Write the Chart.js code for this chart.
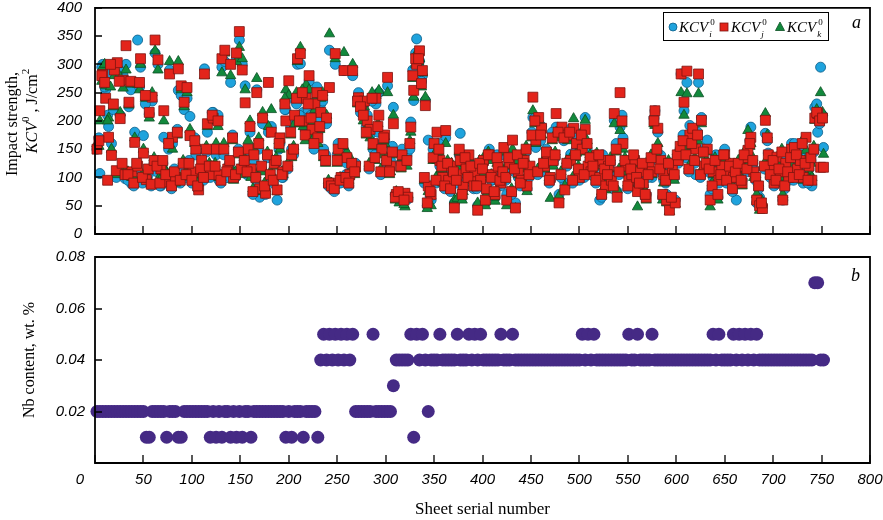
<!DOCTYPE html>
<html>
<head>
<meta charset="utf-8">
<script src="https://cdn.jsdelivr.net/npm/chart.js@4.4.1/dist/chart.umd.min.js"></script>
<style>
  body { margin: 0; background: #fff; }
  #wrap { position: relative; width: 883px; height: 520px; }
  canvas { position: absolute; left: 0; }
  #topChart { top: 0; }
  #bottomChart { top: 245px; }
</style>
</head>
<body>
<div id="wrap">
  <canvas id="topChart" width="883" height="245"></canvas>
  <canvas id="bottomChart" width="883" height="275"></canvas>
</div>
<script>
// sheet serial numbers, first pass (every third sheet)
const sheets = [
  2,5,8,11,14,17,20,23,26,29,
  32,35,38,41,44,47,50,53,56,59,
  62,65,68,71,74,77,80,83,86,89,
  92,95,98,101,104,107,110,113,116,119,
  122,125,128,131,134,137,140,143,146,149,
  152,155,158,161,164,167,170,173,176,179,
  182,185,188,191,194,197,200,203,206,209,
  212,215,218,221,224,227,230,233,236,239,
  242,245,248,251,254,257,260,263,266,269,
  272,275,278,281,284,287,290,293,296,299,
  302,305,308,311,314,317,320,323,326,329,
  332,335,338,341,344,347,350,353,356,359,
  362,365,368,371,374,377,380,383,386,389,
  392,395,398,401,404,407,410,413,416,419,
  422,425,428,431,434,437,440,443,446,449,
  452,455,458,461,464,467,470,473,476,479,
  482,485,488,491,494,497,500,503,506,509,
  512,515,518,521,524,527,530,533,536,539,
  542,545,548,551,554,557,560,563,566,569,
  572,575,578,581,584,587,590,593,596,599,
  602,605,608,611,614,617,620,623,626,629,
  632,635,638,641,644,647,650,653,656,659,
  662,665,668,671,674,677,680,683,686,689,
  692,695,698,701,704,707,710,713,716,719,
  722,725,728,731,734,737,740,743,746,749,
  752
];

// second pass of sheets in between
const sheetsB = [
  4,7,10,13,16,19,22,25,28,31,
  34,37,40,43,46,49,52,55,58,61,
  64,67,70,73,76,79,82,85,88,91,
  94,97,100,103,106,109,112,115,118,121,
  124,127,130,133,136,139,142,145,148,151,
  154,157,160,163,166,169,172,175,178,181,
  184,187,190,193,196,199,202,205,208,211,
  214,217,220,223,226,229,232,235,238,241,
  244,247,250,253,256,259,262,265,268,271,
  274,277,280,283,286,289,292,295,298,301,
  304,307,310,313,316,319,322,325,328,331,
  334,337,340,343,346,349,352,355,358,361,
  364,367,370,373,376,379,382,385,388,391,
  394,397,400,403,406,409,412,415,418,421,
  424,427,430,433,436,439,442,445,448,451,
  454,457,460,463,466,469,472,475,478,481,
  484,487,490,493,496,499,502,505,508,511,
  514,517,520,523,526,529,532,535,538,541,
  544,547,550,553,556,559,562,565,568,571,
  574,577,580,583,586,589,592,595,598,601,
  604,607,610,613,616,619,622,625,628,631,
  634,637,640,643,646,649,652,655,658,661,
  664,667,670,673,676,679,682,685,688,691,
  694,697,700,703,706,709,712,715,718,721,
  724,727,730,733,736,739,742,745,748,751
];

// KCV_i^0, J/cm2 (circles)
const kcvI = [
  150,107,300,255,190,160,292,298,210,280,
  300,225,88,180,343,295,174,92,212,235,
  320,300,85,171,98,290,160,95,254,245,
  220,240,208,95,140,92,120,292,180,100,
  215,140,95,295,305,100,268,110,310,343,
  300,262,140,105,130,255,65,195,70,180,
  190,130,60,160,100,220,240,150,200,300,
  301,215,250,270,200,225,180,230,150,195,
  325,80,300,160,92,289,125,100,280,125,
  250,225,230,210,175,150,230,250,160,165,
  262,130,224,65,60,150,70,62,198,236,
  345,306,280,236,166,60,154,141,120,95,
  170,90,110,55,95,178,80,105,130,90,
  100,50,90,125,75,150,95,65,110,85,
  140,70,115,141,55,100,90,125,80,115,
  206,153,197,190,110,135,95,125,189,70,
  180,90,170,141,175,150,95,160,206,110,
  105,115,130,60,140,90,110,100,201,75,
  189,170,115,100,95,125,79,105,85,70,
  125,100,218,180,139,95,70,50,110,60,
  125,283,218,268,192,160,105,268,206,110,
  166,70,100,140,90,110,150,100,115,95,
  60,110,95,130,140,189,115,55,65,48,
  178,143,115,85,125,105,60,130,95,160,
  160,110,125,90,140,115,85,224,180,295,
  153
];
const kcvIB = [
  170,295,260,210,285,220,100,290,115,98,
  95,255,85,115,260,90,230,105,85,125,
  110,85,125,100,150,80,115,185,90,120,
  100,130,90,170,80,110,95,145,115,215,
  115,210,90,140,100,125,175,100,150,110,
  125,105,180,70,95,150,115,80,135,100,
  90,125,150,100,220,115,190,140,230,210,
  240,185,220,210,150,260,200,235,140,85,
  80,75,140,90,150,105,85,120,115,240,
  215,220,190,115,235,140,180,105,160,125,
  115,155,70,62,125,58,140,150,290,320,
  300,270,90,50,65,150,90,160,110,80,
  120,75,105,90,140,65,130,95,115,80,
  80,120,110,55,135,95,70,140,90,105,
  95,130,70,110,135,85,120,145,100,180,
  205,105,165,120,150,90,180,135,175,100,
  165,120,185,90,145,110,170,100,150,130,
  115,90,135,65,110,100,125,80,160,105,
  210,125,80,110,135,95,85,120,65,100,
  130,205,145,110,65,90,120,60,100,135,
  150,175,135,110,170,125,180,100,150,120,
  110,80,125,65,100,135,90,115,75,105,
  120,90,135,110,165,125,95,80,50,115,
  165,100,125,90,110,140,80,105,130,95,
  135,100,155,120,90,130,145,230,195,210
];

// KCV_j^0 (squares)
const kcvJ = [
  150,218,282,240,171,139,290,303,204,272,
  333,233,110,162,120,310,143,96,215,242,
  343,308,115,218,92,283,171,100,292,262,
  233,259,174,110,150,78,130,283,195,105,
  205,150,105,310,325,115,300,100,320,358,
  290,232,150,115,140,250,80,205,72,268,
  180,125,78,170,110,200,271,140,210,310,
  319,200,240,280,185,230,170,215,140,205,
  259,90,319,150,100,289,135,105,289,120,
  241,230,235,200,185,160,240,210,150,175,
  277,120,195,70,68,140,72,65,189,254,
  300,324,289,227,85,70,160,180,130,100,
  183,95,120,46,105,130,85,115,140,100,
  110,42,95,130,80,140,105,70,120,90,
  153,60,125,166,46,110,95,130,85,120,
  242,166,206,187,120,141,100,130,213,55,
  189,78,175,130,187,160,100,150,185,120,
  110,125,139,100,130,85,120,95,213,65,
  250,160,120,95,105,130,75,110,90,65,
  120,110,218,187,130,105,60,42,115,55,
  130,283,233,288,175,187,150,283,201,120,
  150,60,110,130,95,120,140,105,125,100,
  100,120,90,135,148,171,110,60,50,45,
  201,140,120,90,136,110,60,125,100,150,
  153,115,130,100,171,120,95,205,213,118,
  118
];
const kcvJB = [
  165,280,268,95,300,230,112,270,125,105,
  105,270,90,125,268,100,245,115,88,130,
  120,90,130,105,160,85,110,180,95,125,
  105,125,95,165,85,115,100,150,120,210,
  120,200,95,150,110,130,170,105,145,115,
  130,110,190,75,100,160,120,85,140,105,
  95,130,160,105,230,120,180,150,240,200,
  250,175,230,205,160,250,190,245,130,90,
  85,80,130,95,160,100,90,125,110,235,
  225,210,180,120,240,135,190,110,170,130,
  110,145,65,75,120,60,130,160,280,310,
  310,266,100,55,75,135,95,150,120,85,
  125,80,110,95,150,70,135,100,120,85,
  85,125,115,60,140,100,75,135,95,110,
  100,135,75,115,140,90,125,150,105,175,
  200,110,175,125,145,95,170,140,180,105,
  170,125,180,95,140,115,175,105,160,135,
  120,95,140,70,115,105,130,85,150,110,
  200,130,85,115,140,100,90,125,70,105,
  135,200,150,115,70,95,125,65,105,140,
  155,165,140,115,160,130,175,105,145,125,
  115,85,130,70,105,140,95,120,80,110,
  125,95,140,115,160,130,100,85,55,120,
  170,105,130,95,115,145,85,110,135,100,
  140,105,160,125,95,135,150,215,200,205
];

// KCV_k^0 (triangles)
const kcvK = [
  160,200,295,262,205,150,280,300,215,258,
  290,228,100,170,265,300,150,105,205,250,
  324,290,105,200,110,305,150,90,305,255,
  225,250,185,105,160,90,115,280,190,110,
  200,160,100,285,320,120,280,95,305,330,
  310,255,165,100,150,275,75,215,80,190,
  220,120,75,150,105,255,245,135,195,305,
  330,190,264,255,175,220,160,240,135,210,
  354,88,310,140,98,321,145,110,300,115,
  235,240,225,190,170,155,245,254,140,160,
  250,110,210,75,55,135,48,70,180,242,
  320,310,285,242,75,50,140,130,110,90,
  160,100,125,60,63,120,75,110,135,95,
  105,55,100,135,70,130,100,58,115,95,
  145,50,120,150,45,105,100,135,75,110,
  218,160,200,175,115,130,63,120,180,67,
  175,85,165,135,204,143,105,145,201,115,
  115,120,143,95,125,78,115,90,195,78,
  183,150,110,90,100,120,48,115,80,60,
  115,105,192,160,120,90,55,40,105,53,
  135,250,210,248,170,180,130,248,195,115,
  145,48,105,125,100,115,135,95,120,105,
  105,115,85,125,183,160,100,70,42,55,
  213,130,110,95,120,100,70,115,105,140,
  150,120,135,95,148,110,100,201,210,250,
  141
];
const kcvKB = [
  155,270,300,200,260,225,105,280,120,110,
  110,265,100,120,255,105,240,95,90,135,
  125,95,120,110,165,90,105,175,100,130,
  110,120,100,160,90,105,105,155,125,200,
  125,190,100,160,115,120,165,110,140,105,
  135,115,200,80,105,170,110,90,145,110,
  100,135,165,110,240,125,175,155,250,195,
  255,165,235,195,170,245,185,250,125,95,
  90,85,125,100,155,95,95,130,105,230,
  230,200,175,125,250,130,195,115,165,135,
  105,140,60,70,115,52,120,165,275,300,
  305,260,95,45,80,130,100,145,115,90,
  130,85,115,100,145,60,125,105,110,90,
  90,130,105,50,145,105,65,125,100,115,
  105,125,80,120,130,95,115,155,110,170,
  195,115,185,130,140,100,165,145,170,110,
  175,130,170,100,135,120,180,110,165,140,
  125,100,130,75,120,95,135,90,145,115,
  195,135,90,120,130,105,95,115,75,110,
  140,195,140,120,60,100,130,55,95,145,
  145,160,150,120,155,135,165,110,140,130,
  120,90,135,60,110,130,100,125,85,115,
  130,100,145,120,155,135,105,90,60,125,
  175,110,135,100,120,150,90,115,125,105,
  145,110,165,130,100,125,155,220,205,215
];

// Nb content, wt. % (first pass sheets)
const nbContent = [
  .02,.02,.02,.02,.02,.02,.02,.02,.02,.02,
  .02,.02,.02,.02,.02,.02,.02,.01,.01,.02,
  .02,.02,.02,.02,.01,.02,.02,.02,.01,.01,
  .02,.02,.02,.02,.02,.02,.02,.02,.02,.01,
  .02,.01,.02,.01,.02,.02,.01,.02,.01,.02,
  .01,.02,.02,.01,.02,.02,.02,.02,.02,.02,
  .02,.02,.02,.02,.02,.01,.02,.01,.02,.02,
  .02,.01,.02,.02,.02,.02,.01,.04,.05,.04,
  .05,.04,.05,.04,.05,.04,.05,.04,.05,.02,
  .02,.02,.02,.02,.02,.05,.02,.02,.02,.02,
  .02,.02,.03,.04,.04,.04,.04,.04,.05,.01,
  .05,.04,.05,.04,.02,.04,.04,.04,.05,.04,
  .04,.04,.04,.04,.05,.04,.04,.04,.05,.04,
  .05,.04,.05,.04,.04,.04,.04,.04,.04,.05,
  .04,.04,.04,.05,.04,.04,.04,.04,.04,.04,
  .04,.04,.04,.04,.04,.04,.04,.04,.04,.04,
  .04,.04,.04,.04,.04,.04,.04,.05,.04,.05,
  .04,.05,.04,.04,.04,.04,.04,.04,.04,.04,
  .04,.04,.04,.05,.04,.04,.05,.04,.04,.04,
  .04,.05,.04,.04,.04,.04,.04,.04,.04,.04,
  .04,.04,.04,.04,.04,.04,.04,.04,.04,.04,
  .04,.04,.05,.04,.05,.04,.04,.04,.04,.05,
  .04,.05,.04,.05,.04,.05,.04,.05,.04,.04,
  .04,.04,.04,.04,.04,.04,.04,.04,.04,.04,
  .04,.04,.04,.04,.04,.04,.04,.07,.07,.04,
  .04
];

const xTicks = [0,50,100,150,200,250,300,350,400,450,500,550,600,650,700,750,800];
const kcvTicks = [0,50,100,150,200,250,300,350,400];
const nbTicks = [0,0.02,0.04,0.06,0.08];

const SANS = '"Liberation Sans", Arial, sans-serif';
const SERIF = '"Liberation Serif", "Times New Roman", serif';

function pts(values, xs) {
  return values.map((v, i) => ({ x: xs[i], y: v }));
}

// frame round the plot area and short inward ticks on the bottom and left
function makeFrame(yTicks) {
  return {
    id: 'frame',
    afterDraw(chart) {
      const { ctx, chartArea: a, scales } = chart;
      ctx.save();
      ctx.strokeStyle = '#000';
      ctx.lineWidth = 1.3;
      ctx.beginPath();
      xTicks.forEach(v => {
        const x = Math.round(scales.x.getPixelForValue(v));
        ctx.moveTo(x, a.bottom);
        ctx.lineTo(x, a.bottom - 8);
      });
      yTicks.forEach(v => {
        const y = Math.round(scales.y.getPixelForValue(v));
        ctx.moveTo(a.left, y);
        ctx.lineTo(a.left + 7, y);
      });
      ctx.stroke();
      ctx.lineWidth = 1.8;
      ctx.beginPath();
      ctx.moveTo(a.left, a.top);
      ctx.lineTo(a.right, a.top);
      ctx.lineTo(a.right, a.bottom);
      ctx.lineTo(a.left, a.bottom);
      ctx.closePath();
      ctx.stroke();
      ctx.restore();
    }
  };
}

function drawKcv(ctx, x, y, sub, size) {
  ctx.font = `italic ${size}px ${SERIF}`;
  ctx.fillText('KCV', x, y);
  const w = ctx.measureText('KCV').width;
  ctx.font = `italic ${Math.round(size * 0.62)}px ${SERIF}`;
  ctx.fillText(sub, x + w + 1, y + size * 0.3);
  ctx.font = `${Math.round(size * 0.62)}px ${SERIF}`;
  ctx.fillText('0', x + w + 2, y - size * 0.5);
}

// axis title, legend and panel letter of the upper chart
const topDecor = {
  id: 'topDecor',
  afterDraw(chart) {
    const ctx = chart.ctx;
    ctx.save();
    ctx.fillStyle = '#000';
    ctx.textBaseline = 'alphabetic';

    ctx.save();
    ctx.translate(17, 124);
    ctx.rotate(-Math.PI / 2);
    ctx.font = `16px ${SERIF}`;
    ctx.textAlign = 'center';
    ctx.fillText('Impact strength,', 0, 0);
    ctx.restore();

    ctx.save();
    ctx.font = `italic 16px ${SERIF}`;
    const wK = ctx.measureText('KCV').width;
    ctx.font = `16px ${SERIF}`;
    const wU = ctx.measureText(' , J/cm').width;
    ctx.font = `11px ${SERIF}`;
    const wS = ctx.measureText('0').width;
    const total = wK + wS + wU + wS;
    ctx.translate(37, 111 + total / 2);
    ctx.rotate(-Math.PI / 2);
    let px = 0;
    ctx.font = `italic 16px ${SERIF}`;
    ctx.fillText('KCV', px, 0); px += wK;
    ctx.font = `11px ${SERIF}`;
    ctx.fillText('0', px, -8); px += wS;
    ctx.font = `16px ${SERIF}`;
    ctx.fillText(' , J/cm', px, 0); px += wU;
    ctx.font = `11px ${SERIF}`;
    ctx.fillText('2', px, -8);
    ctx.restore();

    // legend box
    ctx.fillStyle = '#fff';
    ctx.fillRect(663, 12, 165, 28);
    ctx.strokeStyle = '#000';
    ctx.lineWidth = 1;
    ctx.strokeRect(663.5, 12.5, 165, 28);

    const my = 27;
    ctx.lineWidth = 0.8;
    ctx.fillStyle = '#1fa3dd';
    ctx.strokeStyle = '#0d5d86';
    ctx.beginPath(); ctx.arc(673, my, 4, 0, Math.PI * 2); ctx.fill(); ctx.stroke();
    ctx.fillStyle = '#e3241b';
    ctx.strokeStyle = '#7d1410';
    ctx.fillRect(720, my - 4, 8, 8); ctx.strokeRect(720, my - 4, 8, 8);
    ctx.fillStyle = '#12893c';
    ctx.strokeStyle = '#0a4f22';
    ctx.beginPath(); ctx.moveTo(780, my - 5); ctx.lineTo(784.5, my + 3.5); ctx.lineTo(775.5, my + 3.5); ctx.closePath(); ctx.fill(); ctx.stroke();

    ctx.fillStyle = '#000';
    drawKcv(ctx, 679, 32, 'i', 15);
    drawKcv(ctx, 731, 32, 'j', 15);
    drawKcv(ctx, 787, 32, 'k', 15);

    ctx.font = `italic 18px ${SERIF}`;
    ctx.fillText('a', 852, 28);
    ctx.restore();
  }
};

const bottomDecor = {
  id: 'bottomDecor',
  afterDraw(chart) {
    const ctx = chart.ctx;
    ctx.save();
    ctx.fillStyle = '#000';
    ctx.save();
    ctx.translate(34, 115);
    ctx.rotate(-Math.PI / 2);
    ctx.font = `16px ${SERIF}`;
    ctx.textAlign = 'center';
    ctx.fillText('Nb content, wt. %', 0, 0);
    ctx.restore();

    ctx.font = `italic 18px ${SERIF}`;
    ctx.fillText('b', 851, 36);

    // the zero of the x axis sits left of the corner
    ctx.font = `italic 15px ${SANS}`;
    ctx.textAlign = 'center';
    ctx.textBaseline = 'middle';
    ctx.fillText('0', 80, 235);
    ctx.restore();
  }
};

const tickFont = { family: SANS, size: 15, style: 'italic' };

// keep the plot area exactly where the boxes say
function fitY(s) { s.width = 95; s.paddingTop = 0; s.paddingBottom = 0; }
function fitX(h) {
  return s => { s.height = h; s.paddingLeft = 0; s.paddingRight = 0; };
}

new Chart(document.getElementById('topChart'), {
  type: 'scatter',
  data: {
    datasets: [
      { label: 'KCVj', data: pts(kcvJ, sheets).concat(pts(kcvJB, sheetsB)),
        pointStyle: 'rect', pointRadius: 7, clip: false,
        backgroundColor: '#e3241b', borderColor: '#7d1410', borderWidth: 0.8, order: 0 },
      { label: 'KCVk', data: pts(kcvK, sheets).concat(pts(kcvKB, sheetsB)),
        pointStyle: 'triangle', pointRadius: 6, clip: false,
        backgroundColor: '#12893c', borderColor: '#0a4f22', borderWidth: 0.8, order: 1 },
      { label: 'KCVi', data: pts(kcvI, sheets).concat(pts(kcvIB, sheetsB)),
        pointStyle: 'circle', pointRadius: 5, clip: false,
        backgroundColor: '#1fa3dd', borderColor: '#0d5d86', borderWidth: 0.8, order: 2 }
    ]
  },
  options: {
    responsive: false,
    animation: false,
    devicePixelRatio: 1,
    events: [],
    layout: { padding: { left: 0, right: 13, top: 7, bottom: 0 } },
    plugins: { legend: { display: false }, tooltip: { enabled: false } },
    scales: {
      x: {
        type: 'linear', min: 0, max: 800,
        ticks: { display: false, stepSize: 50 },
        grid: { display: false, drawTicks: false },
        border: { display: false },
        afterFit: fitX(11)
      },
      y: {
        min: 0, max: 400,
        ticks: { stepSize: 50, padding: 13, color: '#000', font: tickFont },
        grid: { display: false, drawTicks: false },
        border: { display: false },
        afterFit: fitY
      }
    }
  },
  plugins: [makeFrame(kcvTicks), topDecor]
});

new Chart(document.getElementById('bottomChart'), {
  type: 'scatter',
  data: {
    datasets: [
      { label: 'Nb', data: pts(nbContent, sheets), pointStyle: 'circle', pointRadius: 6.5,
        clip: false, backgroundColor: '#452a85', borderWidth: 0 }
    ]
  },
  options: {
    responsive: false,
    animation: false,
    devicePixelRatio: 1,
    events: [],
    layout: { padding: { left: 0, right: 13, top: 12, bottom: 0 } },
    plugins: { legend: { display: false }, tooltip: { enabled: false } },
    scales: {
      x: {
        type: 'linear', min: 0, max: 800,
        ticks: {
          stepSize: 50, padding: 8, color: '#000', font: tickFont,
          autoSkip: false, maxRotation: 0,
          callback: v => (v === 0 ? '' : v)
        },
        grid: { display: false, drawTicks: false },
        border: { display: false },
        title: {
          display: true, text: 'Sheet serial number', color: '#000',
          font: { family: SERIF, size: 17 }, padding: { top: 0, bottom: 0 }
        },
        afterFit: fitX(57)
      },
      y: {
        min: 0, max: 0.08,
        ticks: {
          stepSize: 0.02, padding: 10, color: '#000', font: tickFont,
          callback: v => (v === 0 ? '' : v.toFixed(2))
        },
        grid: { display: false, drawTicks: false },
        border: { display: false },
        afterFit: fitY
      }
    }
  },
  plugins: [makeFrame(nbTicks), bottomDecor]
});
</script>
</body>
</html>
